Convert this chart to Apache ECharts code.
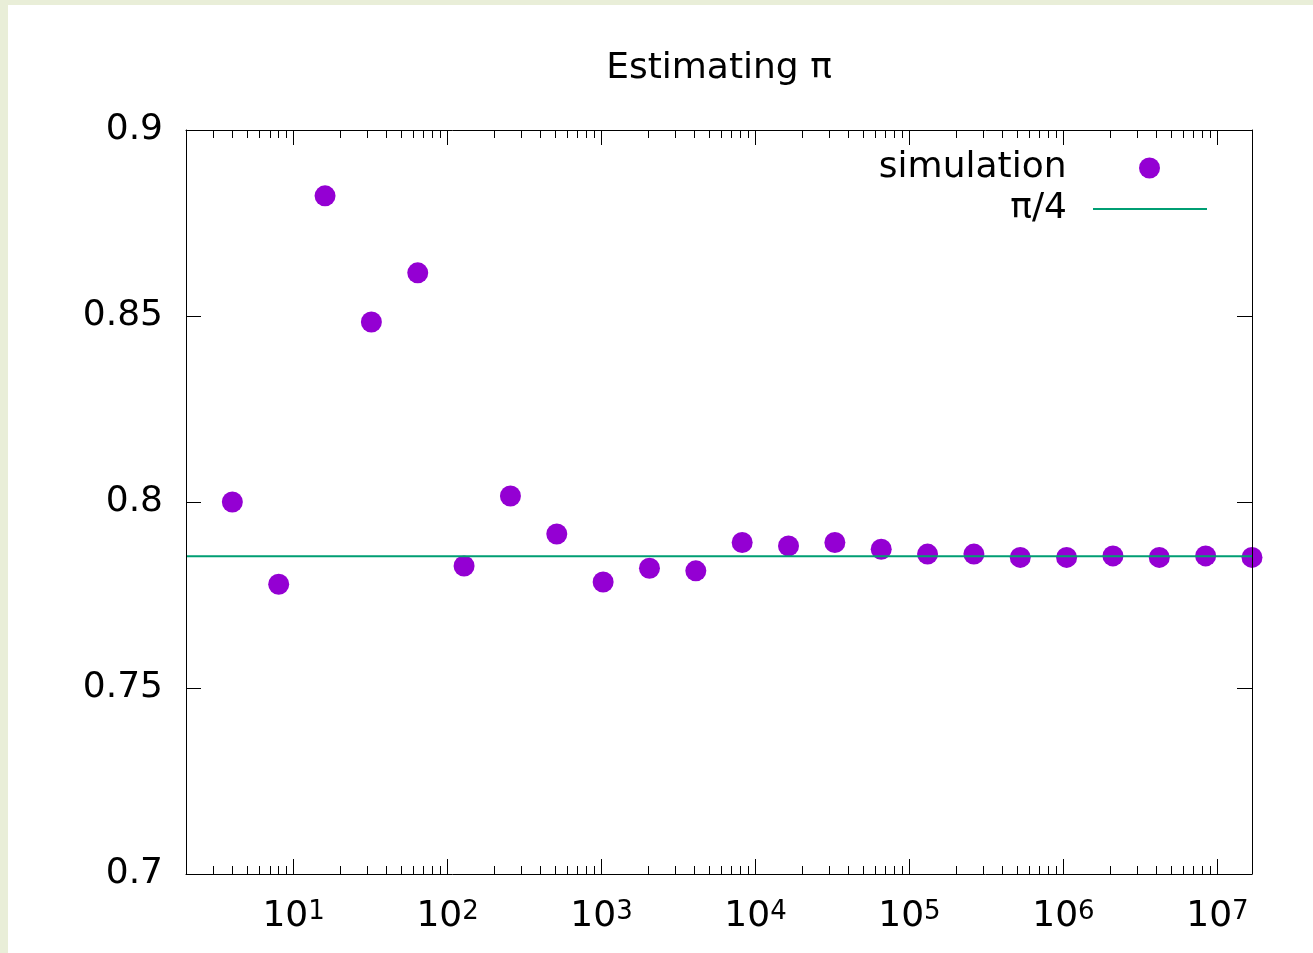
<!DOCTYPE html>
<html>
<head>
<meta charset="utf-8">
<script src="https://cdn.jsdelivr.net/npm/echarts@6/dist/echarts.min.js"></script>
<style>
  html, body { margin: 0; padding: 0; background: #e9eed8; width: 1313px; height: 953px; overflow: hidden; }
  #chart { position: absolute; left: 8px; top: 5px; width: 1305px; height: 948px; background: #ffffff; }
</style>
</head>
<body>
<div id="chart"></div>
<script>
// ---- data ----
const titleText = 'Estimating π';
const seriesNames = ['simulation', 'π/4'];
const sampleSizes = [4, 8, 16, 32, 64, 128, 256, 512, 1024, 2048, 4096, 8192, 16384, 32768,
  65536, 131072, 262144, 524288, 1048576, 2097152, 4194304, 8388608, 16777216];
const estimates = [0.800, 0.7779, 0.8823, 0.8484, 0.8616, 0.7828, 0.8016, 0.7914, 0.7785,
  0.7822, 0.7815, 0.7891, 0.7882, 0.7891, 0.7873, 0.7860, 0.7860, 0.7851, 0.7851,
  0.7855, 0.7851, 0.7855, 0.7851];
const referenceValue = Math.PI / 4;
const xRange = [2, 16777216];
const yRange = [0.7, 0.9];
const yStep = 0.05;
const xMajorTicks = [10, 100, 1000, 10000, 100000, 1000000, 10000000];
const xMinorMultipliers = [2, 3, 4, 5, 6, 7, 8, 9];

// minor tick positions derived from decades
const xMinorTicks = [];
[1].concat(xMajorTicks).forEach(function (d) {
  xMinorMultipliers.forEach(function (m) {
    const v = d * m;
    if (v > xRange[0] && v < xRange[1]) xMinorTicks.push(v);
  });
});

const FONT = 'DejaVu Sans';
const FS = 36;
const BLACK = '#000000';

const chart = echarts.init(document.getElementById('chart'), null, { renderer: 'canvas' });

function baseLogAxis(pos, ticks, len, showLine, showLabel) {
  return {
    type: 'log', logBase: 10, min: xRange[0], max: xRange[1], position: pos,
    z: 5,
    axisLine: { show: showLine, onZero: false, lineStyle: { color: BLACK, width: 1 } },
    axisTick: { show: true, inside: true, length: len, customValues: ticks, lineStyle: { color: BLACK, width: 1 } },
    axisLabel: showLabel ? {
      show: true, customValues: ticks, margin: 25,
      formatter: function (v) {
        const e = Math.round(Math.log10(v));
        return '{b|10}{s|' + e + '}';
      },
      rich: {
        b: { fontSize: FS, fontFamily: FONT, color: BLACK },
        s: { fontSize: 26, fontFamily: FONT, color: BLACK, verticalAlign: 'top' }
      }
    } : { show: false },
    splitLine: { show: false },
    minorTick: { show: false },
    minorSplitLine: { show: false }
  };
}

function valueAxis(pos, showLabel) {
  return {
    type: 'value', min: yRange[0], max: yRange[1], interval: yStep, position: pos,
    z: 5,
    axisLine: { show: true, onZero: false, lineStyle: { color: BLACK, width: 1 } },
    axisTick: { show: true, inside: true, length: 15, lineStyle: { color: BLACK, width: 1 } },
    axisLabel: showLabel ? { show: true, margin: 23, fontSize: FS, fontFamily: FONT, color: BLACK } : { show: false },
    splitLine: { show: false }
  };
}

const option = {
  animation: false,
  backgroundColor: '#ffffff',
  title: {
    text: titleText,
    left: 711, top: 46, padding: 0,
    textAlign: 'center',
    textStyle: { fontSize: FS, fontFamily: FONT, fontWeight: 'normal', color: BLACK }
  },
  grid: { left: 178, top: 125, right: 61, bottom: 79, containLabel: false, show: false },
  xAxis: [
    baseLogAxis('bottom', xMajorTicks, 15, true, true),
    baseLogAxis('bottom', xMinorTicks, 8, false, false),
    baseLogAxis('top', xMajorTicks, 15, true, false),
    baseLogAxis('top', xMinorTicks, 8, false, false)
  ],
  yAxis: [
    valueAxis('left', true),
    valueAxis('right', false)
  ],
  legend: [
    {
      data: [{ name: seriesNames[0], icon: 'circle' }],
      orient: 'vertical', align: 'right', right: 153, top: 145, padding: 0,
      itemWidth: 114, itemHeight: 21, symbolKeepAspect: true,
      textStyle: { fontSize: FS, fontFamily: FONT, color: BLACK, padding: [0, 21, 0, 0] }
    },
    {
      data: [{ name: seriesNames[1], icon: 'rect' }],
      orient: 'vertical', align: 'right', right: 106, top: 186, padding: 0,
      itemWidth: 114, itemHeight: 2,
      textStyle: { fontSize: FS, fontFamily: FONT, color: BLACK, padding: [0, 21, 0, 0] }
    }
  ],
  series: [
    {
      name: seriesNames[0],
      type: 'scatter',
      xAxisIndex: 0, yAxisIndex: 0,
      symbol: 'circle', symbolSize: 21,
      itemStyle: { color: '#9400D3', opacity: 1 },
      data: sampleSizes.map(function (n, i) { return [n, estimates[i]]; }),
      z: 2
    },
    {
      name: seriesNames[1],
      type: 'line',
      xAxisIndex: 0, yAxisIndex: 0,
      symbol: 'none',
      lineStyle: { color: '#009E73', width: 2 },
      itemStyle: { color: '#009E73' },
      data: [[xRange[0], referenceValue], [xRange[1], referenceValue]],
      z: 3
    }
  ]
};

chart.setOption(option);
</script>
</body>
</html>
